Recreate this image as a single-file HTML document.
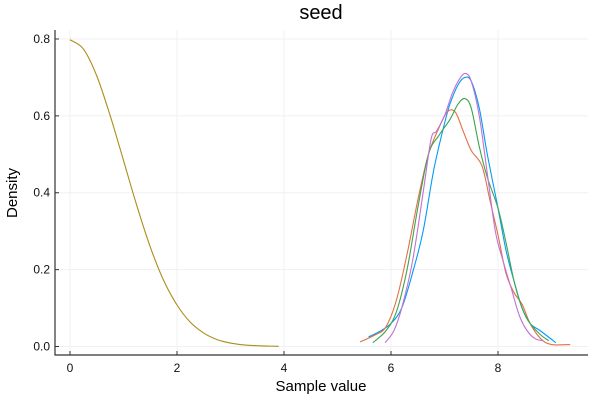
<!DOCTYPE html>
<html><head><meta charset="utf-8"><style>
body{margin:0;background:#fff}
svg{display:block;font-family:"Liberation Sans","DejaVu Sans",sans-serif}
</style></head><body>
<svg id="chart" width="600" height="400">
<rect width="600" height="400" fill="#fff"/>
<text x="321" y="19" font-size="20" text-anchor="middle">seed</text>
<text x="321" y="391" font-size="15" text-anchor="middle">Sample value</text>
<text transform="translate(17,193) rotate(-90)" font-size="15" text-anchor="middle">Density</text>
<g id="grid"></g><g id="axes"></g><g id="series"></g>
</svg>
<script>
const xTicks=[0,2,4,6,8];
const yTicks=[0.0,0.2,0.4,0.6,0.8];
const yTickLabels=["0.0","0.2","0.4","0.6","0.8"];
const seriesNames=["chain-1","chain-2","chain-3","chain-4","prior"];
const seriesColors=["#009af9","#e26f46","#3da44d","#c271d2","#ac8e18"];
const blueX=[5.58,5.8,6.0,6.2,6.4,6.6,6.8,7.0,7.1,7.25,7.38,7.5,7.65,7.8,8.0,8.15,8.3,8.45,8.6,8.8,9.08];
const blueY=[.025,.04,.06,.10,.19,.30,.46,.58,.63,.68,.70,.69,.62,.50,.36,.25,.17,.10,.06,.04,.01];
const orangeX=[5.42,5.7,5.9,6.1,6.3,6.5,6.7,6.9,7.05,7.2,7.35,7.5,7.7,7.85,8.0,8.15,8.3,8.45,8.6,8.8,9.0,9.35];
const orangeY=[.012,.03,.05,.12,.24,.38,.50,.57,.61,.61,.56,.51,.47,.38,.29,.19,.14,.11,.06,.02,.005,.005];
const greenX=[5.66,5.9,6.1,6.3,6.5,6.7,6.9,7.1,7.25,7.38,7.5,7.65,7.8,8.0,8.15,8.3,8.45,8.6,8.8,8.95];
const greenY=[.01,.04,.09,.2,.36,.50,.55,.59,.63,.645,.62,.52,.44,.36,.27,.17,.1,.06,.03,.015];
const purpleX=[5.89,6.05,6.2,6.4,6.6,6.75,6.85,7.0,7.15,7.3,7.4,7.5,7.65,7.8,7.95,8.1,8.25,8.4,8.55,8.7,8.85];
const purpleY=[.01,.04,.10,.22,.4,.54,.56,.6,.66,.70,.71,.69,.6,.45,.3,.22,.15,.08,.04,.02,.015];
const priorX=[0,0.25,0.5,0.75,1,1.25,1.5,1.75,2,2.25,2.5,2.75,3,3.25,3.5,3.75,3.9];
const priorY=[.798,.774,.704,.601,.484,.366,.259,.172,.108,.063,.035,.018,.009,.004,.002,.001,.0004];
const NS="http://www.w3.org/2000/svg";
const L=55,R=588,T=30,B=355;
function sx(v){return 70+v*53.5;}
function sy(v){return 346.5-v*384.4;}
function mk(tag,attrs,parent){const e=document.createElementNS(NS,tag);for(const k in attrs)e.setAttribute(k,attrs[k]);parent.appendChild(e);return e;}
const grid=document.getElementById('grid'),axes=document.getElementById('axes'),ser=document.getElementById('series');
xTicks.forEach(t=>{
 const g=mk('line',{x1:sx(t),x2:sx(t),y1:T,y2:B,stroke:'#f0f0f0','stroke-width':1},grid);
 
 
 mk('line',{x1:sx(t),x2:sx(t),y1:B,y2:B-4,stroke:'#333','stroke-width':1},axes);
 const tx=mk('text',{x:sx(t),y:B+17,'font-size':12,'text-anchor':'middle',fill:'#111'},axes);
 tx.textContent=t;
 
 
});
yTicks.forEach((t,i)=>{
 const g=mk('line',{x1:L,x2:R,y1:sy(t),y2:sy(t),stroke:'#f0f0f0','stroke-width':1},grid);
 
 
 mk('line',{x1:L,x2:L+4,y1:sy(t),y2:sy(t),stroke:'#333','stroke-width':1},axes);
 const tx=mk('text',{x:L-5,y:sy(t)+4,'font-size':12,'text-anchor':'end',fill:'#111'},axes);
 tx.textContent=yTickLabels[i];
 
 
});
const ax=mk('path',{d:`M${L},${T} V${B} H${R}`,fill:'none',stroke:'#333','stroke-width':1.2},axes);


const allX=[blueX,orangeX,greenX,purpleX,priorX],allY=[blueY,orangeY,greenY,purpleY,priorY];
allX.forEach((xs,i)=>{
 const ys=allY[i];
 const pts=xs.map((x,j)=>[sx(x),sy(ys[j])]);
 let d=`M${pts[0][0]},${pts[0][1]}`;
 for(let j=0;j<pts.length-1;j++){
  const p0=pts[Math.max(0,j-1)],p1=pts[j],p2=pts[j+1],p3=pts[Math.min(pts.length-1,j+2)];
  d+=` C${p1[0]+(p2[0]-p0[0])/6},${p1[1]+(p2[1]-p0[1])/6} ${p2[0]-(p3[0]-p1[0])/6},${p2[1]-(p3[1]-p1[1])/6} ${p2[0]},${p2[1]}`;
 }
 const p=mk('path',{d:d,fill:'none',stroke:seriesColors[i],'stroke-width':1.1},ser);
 
 
});
</script>
</body></html>
